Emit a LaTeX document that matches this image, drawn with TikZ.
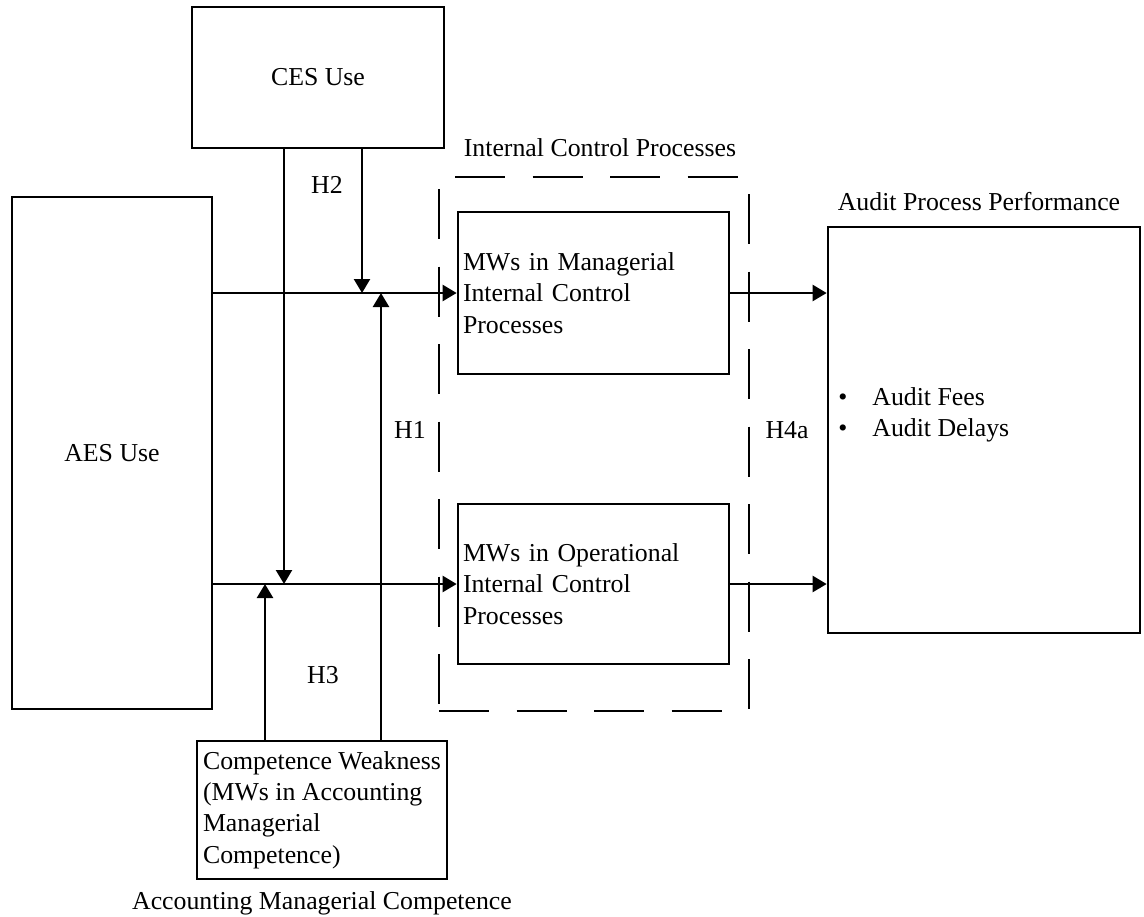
\documentclass[tikz,border=0pt]{standalone}
\usepackage{fontspec}
\setmainfont{Liberation Serif}
\usetikzlibrary{arrows.meta}

\begin{document}
\begin{tikzpicture}[x=0.5pt,y=-0.5pt,
  font=\fontsize{12.9}{15.6}\selectfont,
  box/.style={draw, line width=1.35pt, inner sep=0pt},
  conn/.style={line width=1.2pt, -{Triangle[length=7pt,width=8pt]}},
  framedash/.style={line width=1.2pt, dash pattern=on 25pt off 13.75pt},
  lbl/.style={inner sep=0pt}]
\useasboundingbox (0,0) rectangle (1144,916);

% constructs
\node[box, minimum width=126pt, minimum height=70.5pt] (ces) at (318,77.5) {CES Use};
\node[box, minimum width=100pt, minimum height=256pt] (aes) at (112,453) {AES Use};
\node[box, minimum width=135.5pt, minimum height=81pt, inner xsep=2.5pt,
      text width=130.5pt, align=left] (mgr) at (593.5,293)
      {MWs in Managerial\\Internal Control\\Processes};
\node[box, minimum width=135.5pt, minimum height=80pt, inner xsep=2.5pt,
      text width=130.5pt, align=left] (opr) at (593.5,584)
      {MWs in Operational\\Internal Control\\Processes};
\node[box, minimum width=156pt, minimum height=203pt] (aud) at (984,430) {};
\node[box, minimum width=125pt, minimum height=69pt, align=left] (cmp) at (322,810)
      {Competence Weakness\\(MWs in Accounting\\Managerial\\Competence)};

% outcome measures
\node[lbl, anchor=west, align=left] (meas) at (838,415)
  {\makebox[17pt][l]{\textbullet}Audit Fees\\\makebox[17pt][l]{\textbullet}Audit Delays};

% group frame around the internal control processes
\draw[framedash] (455,177) -- (749,177);
\draw[framedash] (749,194) -- (749,711);
\draw[framedash] (439,711) -- (722,711);
\draw[framedash] (439,189) -- (439,711);

% captions
\node[lbl] (icpcap) at (600,148) {Internal Control Processes};
\node[lbl] (appcap) at (979,202) {Audit Process Performance};
\node[lbl] (amccap) at (322,903) {Accounting Managerial Competence};

% hypothesis labels
\node[lbl] (h1) at (410,430) {H1};
\node[lbl] (h2) at (327,185) {H2};
\node[lbl] (h3) at (323,675) {H3};
\node[lbl] (h4a) at (787,430) {H4a};

% junctions on the main paths
\coordinate (j1) at (362,293);
\coordinate (j2) at (381,293);
\coordinate (j3) at (284,584);
\coordinate (j4) at (265,584);

% main effects
\draw[conn] (aes.east |- mgr.west) -- (mgr.west);
\draw[conn] (aes.east |- opr.west) -- (opr.west);
\draw[conn] (mgr.east) -- (aud.west |- mgr.east);
\draw[conn] (opr.east) -- (aud.west |- opr.east);

% moderating effects
\draw[conn] (ces.south -| j1) -- (j1);
\draw[conn] (ces.south -| j3) -- (j3);
\draw[conn] (cmp.north -| j2) -- (j2);
\draw[conn] (cmp.north -| j4) -- (j4);
\end{tikzpicture}
\end{document}
